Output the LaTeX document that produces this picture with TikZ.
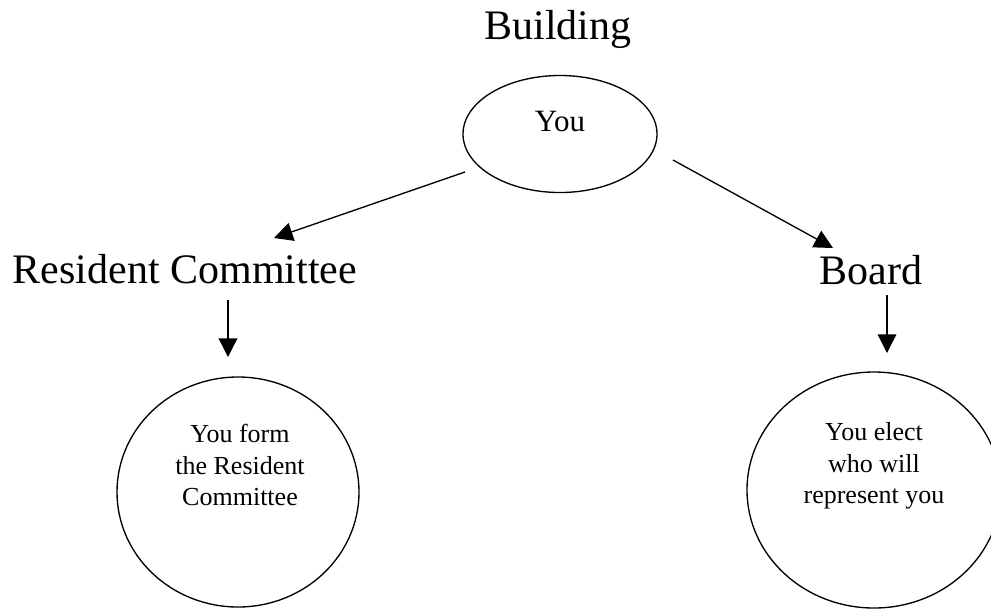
\documentclass[tikz,border=0pt]{standalone}
\usepackage{fontspec}
\setmainfont{Liberation Serif}
\usepackage{tikz}
\usetikzlibrary{arrows.meta, shapes.geometric, positioning}

\begin{document}
\begin{tikzpicture}[x=0.75pt, y=-0.75pt, line width=1pt,
    >={Triangle[length=14pt, width=14pt]},
    bigtxt/.style={font=\fontsize{31.5}{37}\selectfont, anchor=base, inner sep=0pt},
    youtxt/.style={font=\fontsize{23.25}{28}\selectfont, anchor=base, inner sep=0pt},
    bubbletxt/.style={font=\fontsize{19.5}{23.6}\selectfont, align=center, anchor=north, inner sep=0pt},
    bubble/.style={draw, ellipse, inner sep=0pt}]

    \useasboundingbox (0,0) rectangle (991,608);

    % =================================================================
    % 1. MAIN POINTS
    % =================================================================
    \coordinate (YouC) at (560,134);
    \coordinate (FormC) at (238,492);
    \coordinate (ElectC) at (874,490);

    % arrow ends
    \coordinate (L1) at (465,172);
    \coordinate (L2) at (274,238);
    \coordinate (R1) at (673,160);
    \coordinate (R2) at (833,248);
    \coordinate (D1) at (228,300);
    \coordinate (D2) at (228,357);
    \coordinate (E1) at (887,295);
    \coordinate (E2) at (887,353);

    % =================================================================
    % 2. ELLIPSE AND CIRCLES
    % =================================================================
    \node[bubble, minimum width=145.5pt, minimum height=87.75pt] (you) at (YouC) {};
    \node[bubble, minimum width=181.5pt, minimum height=172.5pt] (form) at (FormC) {};
    \node[bubble, minimum width=190.5pt, minimum height=177pt] (elect) at (ElectC) {};

    % =================================================================
    % 3. ARROWS
    % =================================================================
    \draw[->] (L1) -- (L2);
    \draw[->] (R1) -- (R2);
    \draw[->] (D1) -- (D2);
    \draw[->] (E1) -- (E2);

    % =================================================================
    % 4. LABELS
    % =================================================================
    \node[bigtxt] (building) at (558,39) {Building};
    \node[youtxt] (youtxt) at (560,131) {You};
    \node[bigtxt] (resident) at (185,283) {Resident Committee};
    \node[bigtxt] (board) at (871,284) {Board};

    \node[bubbletxt] (formtxt) at (240,424) {You form\\the Resident\\Committee};
    \node[bubbletxt] (electtxt) at (874,422) {You elect\\who will\\represent you};

\end{tikzpicture}
\end{document}
